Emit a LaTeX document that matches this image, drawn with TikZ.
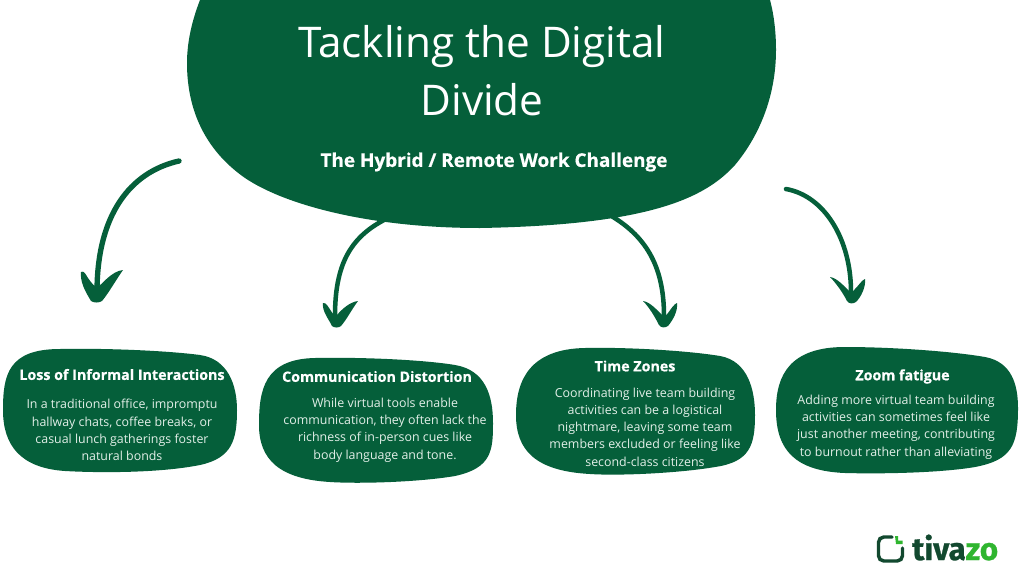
\documentclass[tikz,border=0pt]{standalone}
\usepackage{fontspec}
\setmainfont[BoldFeatures={FakeBold=0.6}]{Open Sans}
\newfontfamily\logofont[BoldFeatures={FakeBold=0.8}]{Fira Sans}
\definecolor{leaf}{HTML}{055F3A}
\definecolor{soft}{HTML}{E2EFE8}
\definecolor{logodark}{HTML}{12492F}
\definecolor{logolight}{HTML}{2FB52F}
\tikzset{
  blob/.style={fill=leaf,draw=none},
  heading/.style={text=white,font=\bfseries\fontsize{10.7}{13}\selectfont,inner sep=0pt},
  bodytext/.style={text=soft,font=\fontsize{9.3}{12.95}\selectfont,align=center,inner sep=0pt},
  shaft/.style={draw=leaf,line width=3.4pt,line cap=round},
  tip/.style={fill=leaf,draw=none},
}
\begin{document}
\begin{tikzpicture}[x=0.75pt,y=-0.75pt]
\useasboundingbox (0,0) rectangle (1024,575);
\fill[white] (0,0) rectangle (1024,575);
\clip (0,0) rectangle (1024,575);
% central blob
\fill[blob] (187,63) .. controls (187,40) and (193,18) .. (200,0) -- (200,-20) -- (770,-20) -- (770,0)
  .. controls (774,15) and (776,32) .. (776,50)
  .. controls (776,95) and (760,135) .. (735,165)
  .. controls (705,198) and (650,225) .. (480,228)
  .. controls (370,228) and (285,205) .. (245,178)
  .. controls (205,150) and (187,110) .. (187,63) -- cycle;
\node[text=white,font=\fontsize{31.7}{43.5}\selectfont,align=center,inner sep=0pt] (title) at (482,71) {Tackling the Digital\\Divide};
\node[text=white,font=\bfseries\fontsize{14.2}{16}\selectfont,inner sep=0pt] (sub) at (494,162) {The Hybrid / Remote Work Challenge};
% card blobs
\fill[blob] (3,410) .. controls (3,375) and (8,349) .. (60,349)
  .. controls (110,348) and (170,351) .. (200,355)
  .. controls (228,359) and (237,385) .. (237,410)
  .. controls (237,440) and (232,458) .. (200,465)
  .. controls (160,473) and (100,473) .. (65,471)
  .. controls (20,468) and (3,445) .. (3,410) -- cycle;
\fill[blob] (259,425) .. controls (259,390) and (264,359) .. (315,358)
  .. controls (365,357) and (425,360) .. (455,365)
  .. controls (485,370) and (493,395) .. (493,423)
  .. controls (493,450) and (492,468) .. (455,476)
  .. controls (420,482) and (360,484) .. (330,482)
  .. controls (280,479) and (259,460) .. (259,425) -- cycle;
\fill[blob] (516,415) .. controls (516,380) and (530,349) .. (585,348)
  .. controls (630,347) and (690,351) .. (720,356)
  .. controls (748,361) and (755,390) .. (755,415)
  .. controls (755,445) and (750,462) .. (715,467)
  .. controls (680,473) and (620,476) .. (590,474)
  .. controls (535,471) and (516,450) .. (516,415) -- cycle;
\fill[blob] (776,410) .. controls (776,375) and (790,347) .. (845,347)
  .. controls (890,347) and (950,351) .. (985,357)
  .. controls (1012,362) and (1018,385) .. (1018,408)
  .. controls (1018,445) and (1012,460) .. (975,467)
  .. controls (940,473) and (880,474) .. (845,473)
  .. controls (795,471) and (776,450) .. (776,410) -- cycle;
% card texts
\node[heading] (h1) at (122,374.5) {Loss of Informal Interactions};
\node[bodytext] (b1) at (122,430) {In a traditional office, impromptu\\hallway chats, coffee breaks, or\\casual lunch gatherings foster\\natural bonds};
\node[heading] (h2) at (377,376.5) {Communication Distortion};
\node[bodytext] (b2) at (385,430) {While virtual tools enable\\communication, they often lack the\\richness of in-person cues like\\body language and tone.};
\node[heading] (h3) at (635,366) {Time Zones};
\node[bodytext] (b3) at (645,427) {Coordinating live team building\\activities can be a logistical\\nightmare, leaving some team\\members excluded or feeling like\\second-class citizens};
\node[heading] (h4) at (902.5,376.5) {Zoom fatigue};
\node[bodytext] (b4) at (896,427) {Adding more virtual team building\\activities can sometimes feel like\\just another meeting, contributing\\to burnout rather than alleviating};
% arrows
\coordinate (a1s) at (179,161); \coordinate (a1e) at (97,292);
\coordinate (a2s) at (384,220); \coordinate (a2e) at (335,316);
\coordinate (a3s) at (608,214); \coordinate (a3e) at (664,316);
\coordinate (a4s) at (786,189); \coordinate (a4e) at (851,292);
\draw[shaft,line width=4pt] (a1s) .. controls (130,172) and (97,215) .. (a1e);
\fill[tip] (81,272) .. controls (84,270) and (86,275) .. (88,278) .. controls (92,284) and (95,287) .. (98,287)
  .. controls (102,284) and (112,271) .. (123,270) .. controls (116,280) and (108,294) .. (102,301)
  .. controls (99,303) and (94,303) .. (91,301) .. controls (85,291) and (80,282) .. (81,272) -- cycle;
\draw[shaft,line width=3.4pt] (a2s) .. controls (350,238) and (335,265) .. (a2e);
\fill[tip] (323,303) .. controls (326,302) and (329,308) .. (331,311) .. controls (333,314) and (335,316) .. (337,315)
  .. controls (342,309) and (350,302) .. (358,301) .. controls (352,309) and (347,319) .. (341,326)
  .. controls (339,328) and (334,328) .. (332,326) .. controls (328,318) and (322,311) .. (323,303) -- cycle;
\draw[shaft,line width=3.4pt] (a3s) .. controls (645,235) and (664,265) .. (a3e);
\fill[tip] (643,301) .. controls (650,302) and (657,310) .. (662,315) .. controls (664,317) and (666,316) .. (668,313)
  .. controls (671,309) and (674,304) .. (677,303) .. controls (678,311) and (673,320) .. (668,326)
  .. controls (665,328) and (661,328) .. (659,325) .. controls (655,317) and (649,307) .. (643,301) -- cycle;
\draw[shaft,line width=3.4pt] (a4s) .. controls (825,196) and (851,240) .. (a4e);
\fill[tip] (830,277) .. controls (837,278) and (844,286) .. (849,291) .. controls (851,293) and (853,292) .. (855,289)
  .. controls (859,285) and (862,280) .. (865,279) .. controls (866,287) and (861,297) .. (856,302)
  .. controls (853,304) and (849,304) .. (847,301) .. controls (843,293) and (836,283) .. (830,277) -- cycle;
% logo
\draw[logodark,line width=2.6pt,line cap=round,rounded corners=4pt] (892,537) -- (878.5,537) -- (878.5,561) -- (902.5,561) -- (902.5,548);
\fill[logolight] (898,536) -- (898,540.5) -- (902.5,540.5) -- (902.5,544) -- (896,544) -- (895,536) -- cycle;
\node[anchor=base west,inner sep=0pt,font=\logofont\bfseries\fontsize{23.5}{26}\selectfont] (logo) at (912,560) {\textcolor{logodark}{tiva}\textcolor{logolight}{zo}};
\end{tikzpicture}
\end{document}
